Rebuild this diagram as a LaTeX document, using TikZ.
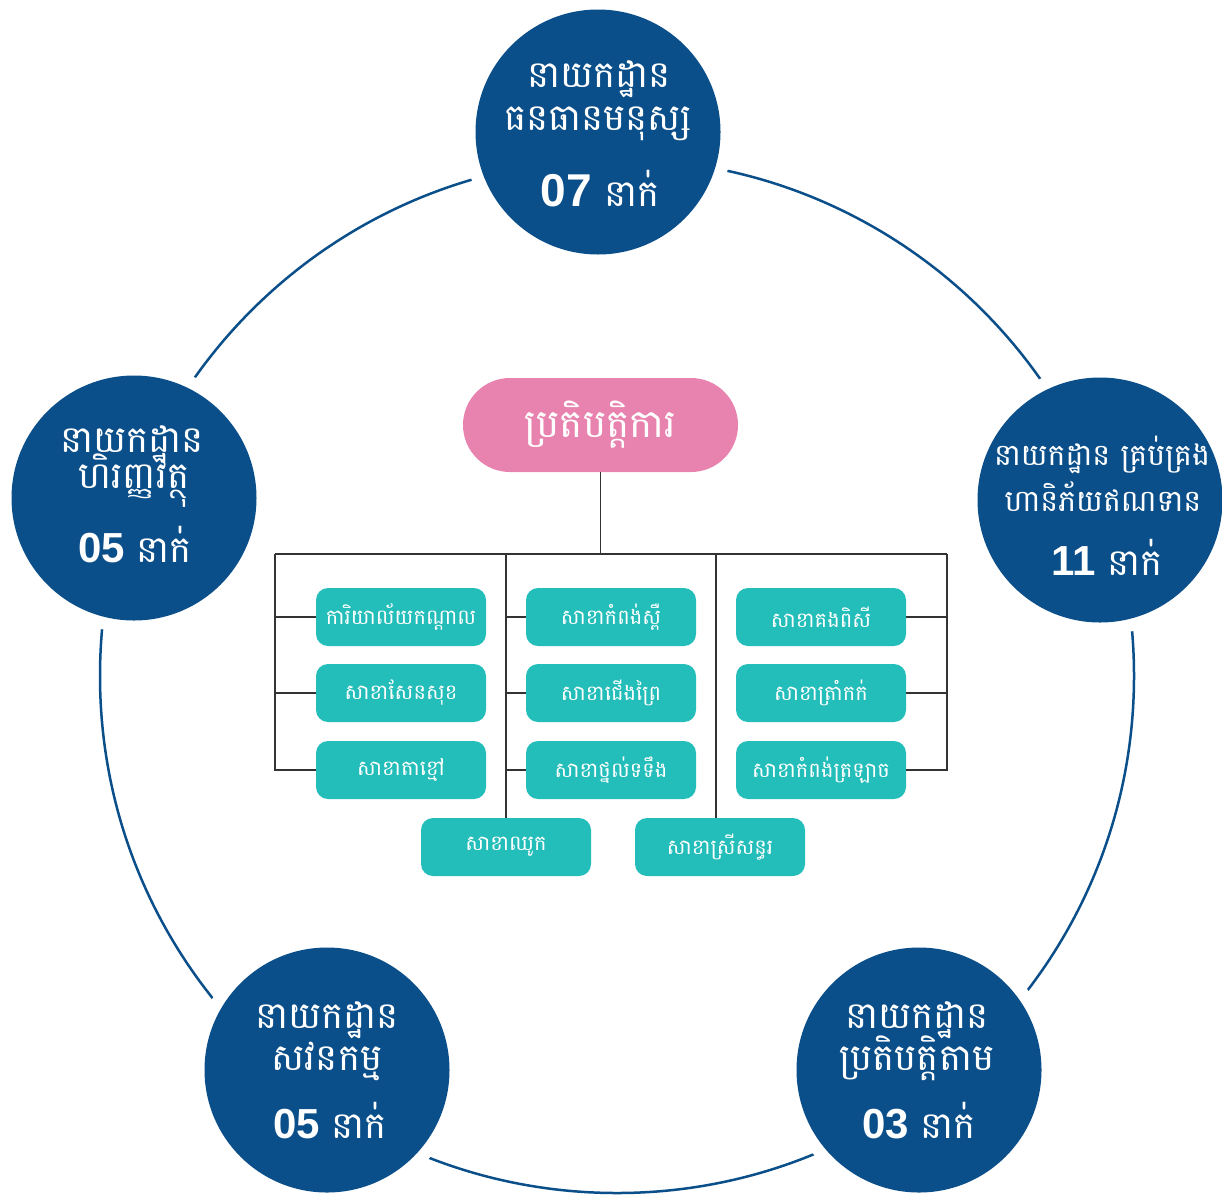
\documentclass[tikz,border=0pt]{standalone}
\usepackage{fontspec}
\newfontfamily\kh[Script=Khmer]{Battambang}
\newfontfamily\num{Liberation Sans}
\definecolor{navy}{HTML}{0B4F8A}
\definecolor{tealbox}{HTML}{23BDBA}
\definecolor{pinkbox}{HTML}{E882AE}
\definecolor{conncol}{HTML}{333333}
\newcommand{\cnt}[2]{{\num\bfseries\fontsize{#1}{#1}\selectfont #2}\hspace{12pt}{\kh\fontsize{37}{42}\selectfont នាក់}}
\tikzset{
  dept/.style={circle, fill=navy, minimum size=245pt, inner sep=0pt},
  gapdisc/.style={fill=white},
  ring/.style={draw=navy, line width=2.5pt},
  bigkh/.style={text=white, font=\kh\fontsize{37}{42}\selectfont, inner sep=0pt, anchor=base},
  smallkh/.style={text=white, font=\kh\fontsize{30}{34}\selectfont, inner sep=0pt, anchor=base},
  numline/.style={text=white, inner sep=0pt, anchor=base},
  tbox/.style={rounded corners=12pt, fill=tealbox, minimum width=170pt, minimum height=58pt, text=white, inner sep=0pt, font=\kh\fontsize{21}{25}\selectfont},
  pbox/.style={rounded corners=47pt, fill=pinkbox, minimum width=275pt, minimum height=94pt, text=white, inner sep=0pt, font=\kh\fontsize{39}{44}\selectfont},
  conn/.style={draw=conncol, line width=1.2pt}
}
\begin{document}
\begin{tikzpicture}[x=1pt,y=-1pt]
\useasboundingbox (0,0) rectangle (1222,1194);
% circle centres
\coordinate (cT) at (598,132);
\coordinate (cR) at (1100,500);
\coordinate (cL) at (134,498);
\coordinate (cBL) at (327,1070);
\coordinate (cBR) at (919,1070);
% ring
\draw[ring] (617,676) circle[radius=517];
\foreach \c in {cT,cR,cL,cBL,cBR} \fill[gapdisc] (\c) circle[radius=135];
% department circles
\node[dept] (dT) at (cT) {};
\node[dept] (dR) at (cR) {};
\node[dept] (dL) at (cL) {};
\node[dept] (dBL) at (cBL) {};
\node[dept] (dBR) at (cBR) {};
% top
\node[bigkh] (tT1) at (599,87) {នាយកដ្ឋាន};
\node[bigkh] (tT2) at (598,130) {ធនធានមនុស្ស};
\node[numline] (tT3) at (600,206) {\cnt{46}{07}};
% right
\node[smallkh] (tR1) at (1102,465) {នាយកដ្ឋាន គ្រប់គ្រង};
\node[smallkh] (tR2) at (1103,511) {ហានិភ័យឥណទាន};
\node[numline] (tR3) at (1107,575) {\cnt{42}{11}};
% left
\node[bigkh] (tL1) at (132,452) {នាយកដ្ឋាន};
\node[bigkh] (tL2) at (134,488) {ហិរញ្ញវត្ថុ};
\node[numline] (tL3) at (135,562) {\cnt{42}{05}};
% bottom left
\node[bigkh] (tBL1) at (327,1028) {នាយកដ្ឋាន};
\node[bigkh] (tBL2) at (327,1070) {សវនកម្ម};
\node[numline] (tBL3) at (330,1138) {\cnt{42}{05}};
% bottom right
\node[bigkh] (tBR1) at (917,1028) {នាយកដ្ឋាន};
\node[bigkh] (tBR2) at (917,1070) {ប្រតិបត្តិតាម};
\node[numline] (tBR3) at (919,1138) {\cnt{42}{03}};
% central tree
\node[pbox] (pk) at (600.5,425) {ប្រតិបត្តិការ};
\node[tbox] (a1) at (401,617) {ការិយាល័យកណ្ដាល};
\node[tbox] (a2) at (401,693) {សាខាសែនសុខ};
\node[tbox] (a3) at (401,770) {សាខាតាខ្មៅ};
\node[tbox] (b1) at (611,617) {សាខាកំពង់ស្ពឺ};
\node[tbox] (b2) at (611,693) {សាខាជើងព្រៃ};
\node[tbox] (b3) at (611,770) {សាខាថ្នល់ទទឹង};
\node[tbox] (c1) at (821,617) {សាខាគងពិសី};
\node[tbox] (c2) at (821,693) {សាខាត្រាំកក់};
\node[tbox] (c3) at (821,770) {សាខាកំពង់ត្រឡាច};
\node[tbox] (d1) at (506,847) {សាខាឈូក};
\node[tbox] (d2) at (720,847) {សាខាស្រីសន្ធរ};
\coordinate (busL) at (275,554);
\coordinate (busR) at (947,554);
\coordinate (busM1) at (506,554);
\coordinate (busM2) at (716,554);
\draw[conn] (pk.south) -- (pk.south |- busL);
\draw[conn] (busL) -- (busR);
\draw[conn] (busL) -- (busL |- a3.west) -- (a3.west);
\draw[conn] (busL |- a1.west) -- (a1.west);
\draw[conn] (busL |- a2.west) -- (a2.west);
\draw[conn] (busR) -- (busR |- c3.east) -- (c3.east);
\draw[conn] (busR |- c1.east) -- (c1.east);
\draw[conn] (busR |- c2.east) -- (c2.east);
\draw[conn] (busM1) -- (d1.north);
\draw[conn] (busM1 |- b1.west) -- (b1.west);
\draw[conn] (busM1 |- b2.west) -- (b2.west);
\draw[conn] (busM1 |- b3.west) -- (b3.west);
\draw[conn] (busM2) -- (busM2 |- d2.north);
\end{tikzpicture}
\end{document}
